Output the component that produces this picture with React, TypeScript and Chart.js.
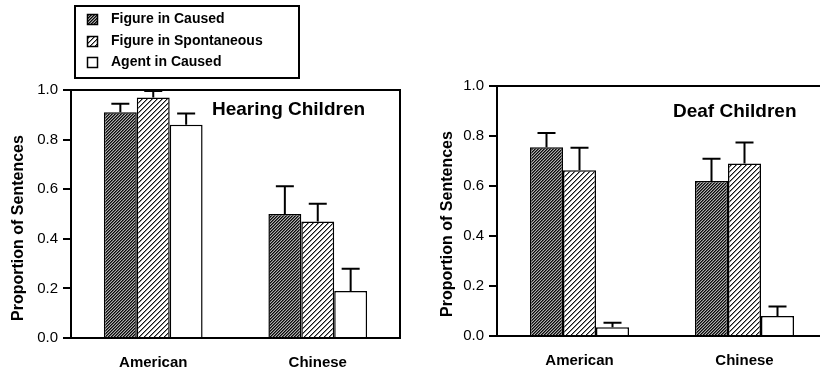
import React, { useEffect, useRef } from 'react';
import { Chart, registerables } from 'chart.js';

Chart.register(...registerables);

const FONT = '"Liberation Sans", Arial, Helvetica, sans-serif';

// ---- data ----
const categories = ['American', 'Chinese'];
const seriesNames = ['Figure in Caused', 'Figure in Spontaneous', 'Agent in Caused'];
const yTickValues = [0, 0.2, 0.4, 0.6, 0.8, 1.0];

const hearingFigureCaused = [0.91, 0.5];
const hearingFigureSpontaneous = [0.97, 0.47];
const hearingAgentCaused = [0.86, 0.19];
const hearingFigureCausedErr = [0.035, 0.112];
const hearingFigureSpontaneousErr = [0.026, 0.071];
const hearingAgentCausedErr = [0.045, 0.089];

const deafFigureCaused = [0.755, 0.62];
const deafFigureSpontaneous = [0.663, 0.69];
const deafAgentCaused = [0.035, 0.08];
const deafFigureCausedErr = [0.057, 0.089];
const deafFigureSpontaneousErr = [0.09, 0.084];
const deafAgentCausedErr = [0.018, 0.038];

type Panel = {
  title: string;
  titleX: number;
  titleY: number;
  values: number[][];
  errs: number[][];
  yAxisWidth: number;
  xAxisHeight: number;
  padTop: number;
  padRight: number;
  yTitleX: number;
  yTitleY: number;
  legend: boolean;
};

function makePattern(ctx: CanvasRenderingContext2D, dense: boolean): CanvasPattern | string {
  const size = dense ? 3 : 5;
  const tile = document.createElement('canvas');
  tile.width = size;
  tile.height = size;
  const tctx = tile.getContext('2d')!;
  const img = tctx.createImageData(size, size);
  for (let y = 0; y < size; y++) {
    for (let x = 0; x < size; x++) {
      const k = (x + y) % size;
      let v: number;
      if (dense) v = k === 0 ? 10 : k === 1 ? 80 : 175;
      else v = k === 0 ? 20 : k === 1 ? 140 : 255;
      const o = (y * size + x) * 4;
      img.data[o] = v;
      img.data[o + 1] = v;
      img.data[o + 2] = v;
      img.data[o + 3] = 255;
    }
  }
  tctx.putImageData(img, 0, 0);
  return ctx.createPattern(tile, 'repeat') || '#666';
}

function buildChart(canvas: HTMLCanvasElement, cfg: Panel): Chart {
  const ctx0 = canvas.getContext('2d')!;
  const fills = [makePattern(ctx0, true), makePattern(ctx0, false), '#ffffff'];

  const overlay = {
    id: 'overlay',
    afterDatasetsDraw(chart: any) {
      const ctx: CanvasRenderingContext2D = chart.ctx;
      const ys = chart.scales.y;
      const a = chart.chartArea;
      ctx.save();
      ctx.strokeStyle = '#000';
      ctx.lineWidth = 2;
      // error bars (upper only)
      chart.data.datasets.forEach((ds: any, di: number) => {
        const meta = chart.getDatasetMeta(di);
        meta.data.forEach((bar: any, i: number) => {
          const top = ys.getPixelForValue(ds.data[i] + cfg.errs[di][i]);
          ctx.beginPath();
          ctx.moveTo(bar.x, bar.y);
          ctx.lineTo(bar.x, top);
          ctx.moveTo(bar.x - 9, top);
          ctx.lineTo(bar.x + 9, top);
          ctx.stroke();
        });
      });
      // frame top & right
      ctx.beginPath();
      ctx.moveTo(a.left, a.top);
      ctx.lineTo(a.right, a.top);
      ctx.lineTo(a.right, a.bottom);
      ctx.stroke();
      // panel title
      ctx.fillStyle = '#000';
      ctx.font = `bold 19px ${FONT}`;
      ctx.textBaseline = 'middle';
      ctx.textAlign = 'left';
      ctx.fillText(cfg.title, cfg.titleX, cfg.titleY);
      // y title
      ctx.save();
      ctx.translate(cfg.yTitleX, cfg.yTitleY);
      ctx.rotate(-Math.PI / 2);
      ctx.font = `bold 16px ${FONT}`;
      ctx.textAlign = 'center';
      ctx.textBaseline = 'middle';
      ctx.fillText('Proportion of Sentences', 0, 0);
      ctx.restore();
      // legend
      if (cfg.legend) {
        ctx.lineWidth = 2;
        ctx.strokeRect(75, 6, 224, 72);
        const rows = [19, 41, 62];
        ctx.font = `bold 14px ${FONT}`;
        ctx.textAlign = 'left';
        ctx.textBaseline = 'middle';
        rows.forEach((ry, i) => {
          ctx.fillStyle = fills[i] as any;
          ctx.fillRect(87.5, ry - 4.5, 10, 10);
          ctx.lineWidth = 1.5;
          ctx.strokeStyle = '#000';
          ctx.strokeRect(87.5, ry - 4.5, 10, 10);
          ctx.fillStyle = '#000';
          ctx.fillText(seriesNames[i], 111, ry + 0.5);
        });
      }
      ctx.restore();
    },
  };

  return new Chart(canvas, {
    type: 'bar',
    data: {
      labels: categories,
      datasets: cfg.values.map((vals, i) => ({
        label: seriesNames[i],
        data: vals,
        backgroundColor: fills[i] as any,
        borderColor: '#000',
        borderWidth: 1.5,
        categoryPercentage: 0.6,
        barPercentage: 1.0,
      })),
    },
    options: {
      responsive: false,
      animation: false,
      devicePixelRatio: 1,
      layout: { padding: { top: cfg.padTop, right: cfg.padRight, left: 0, bottom: 0 } },
      plugins: { legend: { display: false }, tooltip: { enabled: false }, title: { display: false } },
      scales: {
        x: {
          afterFit: (s: any) => {
            s.height = cfg.xAxisHeight;
          },
          grid: { display: false, drawTicks: false },
          border: { display: true, color: '#000', width: 2 },
          ticks: { color: '#000', font: { family: FONT, size: 15, weight: 'bold' }, padding: 16 },
        },
        y: {
          min: 0,
          max: 1,
          afterFit: (s: any) => {
            s.width = cfg.yAxisWidth;
          },
          afterBuildTicks: (s: any) => {
            s.ticks = yTickValues.map((v) => ({ value: v }));
          },
          grid: { drawOnChartArea: false, drawTicks: true, tickLength: 8, color: '#000', lineWidth: 2 },
          border: { display: true, color: '#000', width: 2 },
          ticks: {
            color: '#000',
            padding: 5,
            font: { family: FONT, size: 15 },
            callback: (v: any) => Number(v).toFixed(1),
          },
        },
      },
    },
    plugins: [overlay],
  });
}

function PanelChart({ cfg, left, width }: { cfg: Panel; left: number; width: number }) {
  const ref = useRef<HTMLCanvasElement | null>(null);
  useEffect(() => {
    if (!ref.current) return;
    const ch = buildChart(ref.current, cfg);
    return () => ch.destroy();
  }, []);
  return (
    <canvas
      ref={ref}
      width={width}
      height={374}
      style={{ position: 'absolute', left, top: 0, width, height: 374 }}
    />
  );
}

const hearingPanel: Panel = {
  title: 'Hearing Children',
  titleX: 212,
  titleY: 110,
  values: [hearingFigureCaused, hearingFigureSpontaneous, hearingAgentCaused],
  errs: [hearingFigureCausedErr, hearingFigureSpontaneousErr, hearingAgentCausedErr],
  yAxisWidth: 71,
  xAxisHeight: 36,
  padTop: 90,
  padRight: 10,
  yTitleX: 19,
  yTitleY: 228,
  legend: true,
};

const deafPanel: Panel = {
  title: 'Deaf Children',
  titleX: 263,
  titleY: 112,
  values: [deafFigureCaused, deafFigureSpontaneous, deafAgentCaused],
  errs: [deafFigureCausedErr, deafFigureSpontaneousErr, deafAgentCausedErr],
  yAxisWidth: 87,
  xAxisHeight: 38,
  padTop: 86,
  padRight: 13,
  yTitleX: 38,
  yTitleY: 224,
  legend: false,
};

export default function App() {
  return (
    <div
      style={{
        position: 'fixed',
        left: 0,
        top: 0,
        width: 820,
        height: 374,
        overflow: 'hidden',
        background: '#fff',
      }}
    >
      <PanelChart cfg={hearingPanel} left={0} width={410} />
      <PanelChart cfg={deafPanel} left={410} width={430} />
    </div>
  );
}
